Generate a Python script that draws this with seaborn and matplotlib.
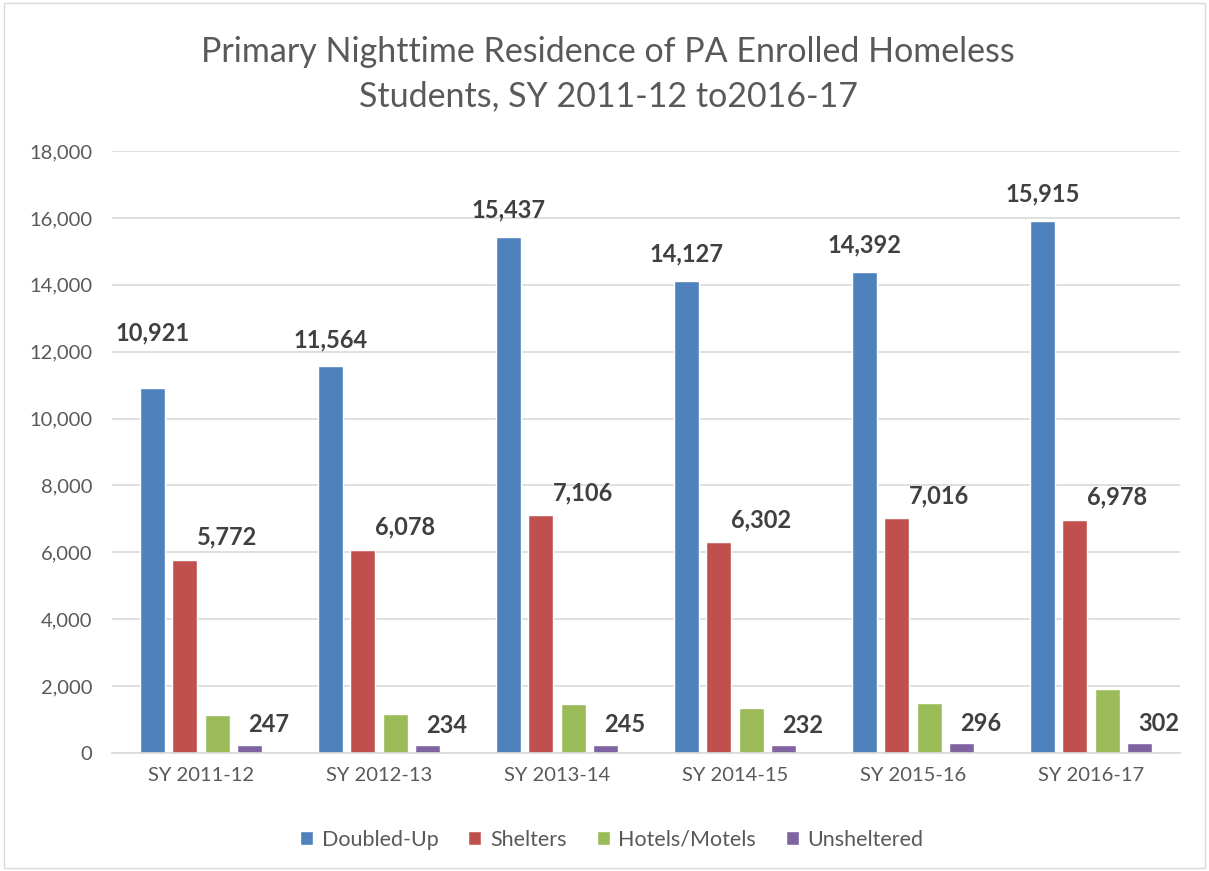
import numpy as np
import pandas as pd
import matplotlib.pyplot as plt
from matplotlib.patches import Rectangle
import seaborn as sns

years = ["SY 2011-12", "SY 2012-13", "SY 2013-14", "SY 2014-15", "SY 2015-16", "SY 2016-17"]
series = ["Doubled-Up", "Shelters", "Hotels/Motels", "Unsheltered"]
doubled_up = [10921, 11564, 15437, 14127, 14392, 15915]
shelters = [5772, 6078, 7106, 6302, 7016, 6978]
hotels = [1131, 1152, 1465, 1343, 1485, 1919]   # no labels in source
unsheltered = [247, 234, 245, 232, 296, 302]

colors = ["#4F81BD", "#C0504D", "#9BBB59", "#8064A2"]

df = pd.DataFrame({
    "year": years * 4,
    "type": sum([[s] * len(years) for s in series], []),
    "count": doubled_up + shelters + hotels + unsheltered,
})

sns.set_style("white")
plt.rcParams["font.family"] = ["Lato", "DejaVu Sans"]

fig = plt.figure(figsize=(12.09, 8.71), dpi=100)
ax = fig.add_axes([112 / 1209, 1 - 753 / 871, (1180 - 112) / 1209, (753 - 151) / 871])

sns.barplot(data=df, x="year", y="count", hue="type", order=years, hue_order=series,
            palette=colors, width=0.72, gap=0.22, saturation=1, ax=ax, legend=True)

ax.set_ylim(0, 18000)
ax.set_yticks(np.arange(0, 18001, 2000))
ax.yaxis.set_major_formatter(plt.FuncFormatter(lambda v, p: f"{int(v):,}"))
ax.grid(axis="y", color="#D9D9D9", lw=1.2)
ax.set_axisbelow(True)
for s in ["top", "right", "left"]:
    ax.spines[s].set_visible(False)
ax.spines["bottom"].set_color("#D9D9D9")
ax.spines["bottom"].set_linewidth(1.2)
ax.tick_params(axis="both", length=0, labelsize=14.5, colors="#595959")
ax.tick_params(axis="y", pad=14)
ax.tick_params(axis="x", pad=10)
ax.set_xlabel("")
ax.set_ylabel("")

# label offsets (points) per series; hotels left unlabeled like the source
offsets = {0: (0, 11), 1: (30, 8), 3: (14, 6)}
for i, cont in enumerate(ax.containers):
    if i not in offsets:
        continue
    dx, dy = offsets[i]
    for j, bar in enumerate(cont):
        h = bar.get_height()
        extra = 20 if (i == 0 and j == 0) else 0
        ax.annotate(f"{int(h):,}", (bar.get_x() + bar.get_width() / 2, h),
                    xytext=(dx, dy + extra), textcoords="offset points",
                    ha="center", va="bottom", fontsize=17, fontweight="bold",
                    color="#404040")

ax.legend(loc="upper center", bbox_to_anchor=(0.468, -0.095), ncol=4, frameon=False,
          fontsize=15.5, handlelength=0.6, handleheight=0.6, columnspacing=1.4,
          handletextpad=0.4, labelcolor="#595959")

fig.text(0.503, 1 - 74 / 871, "Primary Nighttime Residence of PA Enrolled Homeless\nStudents, SY 2011-12 to2016-17",
         ha="center", va="center", fontsize=24.5, color="#595959", linespacing=1.5)

fig.patches.append(Rectangle((0.003, 0.003), 0.994, 0.994, transform=fig.transFigure,
                             fill=False, edgecolor="#D9D9D9", lw=1))

fig.savefig("out.png", dpi=100)
